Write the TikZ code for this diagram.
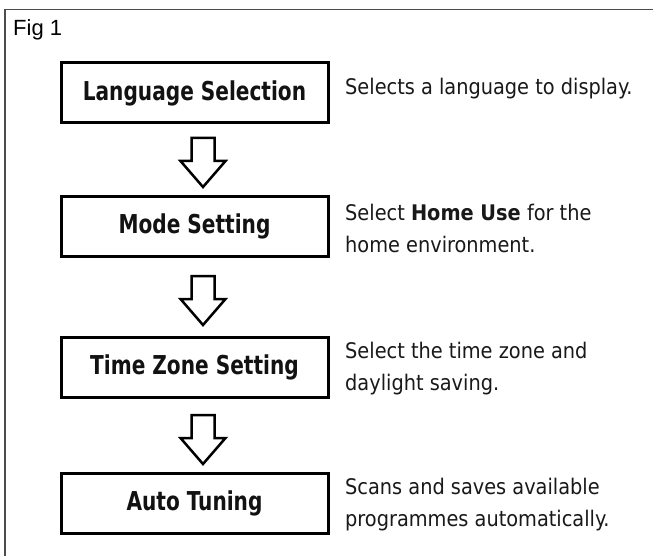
\documentclass[tikz,border=0pt]{standalone}
\usepackage{fontspec}
\setmainfont{DejaVu Sans Condensed}
\newfontfamily\boxfont[FakeStretch=0.86]{DejaVu Sans Condensed Bold}
\newfontfamily\figfont{Liberation Sans}
\begin{document}
\begin{tikzpicture}[x=1pt,y=-1pt,
  stepbox/.style={draw=black,line width=3pt,minimum width=267pt,minimum height=60pt,inner sep=0pt,
    font=\boxfont\fontsize{26}{30}\selectfont,text=black!93},
  desc/.style={anchor=west,align=left,inner sep=0pt,font=\fontsize{21.5}{32}\selectfont,text=black!90},
  flowarrow/.style={draw=black,line width=2.5pt,fill=white,line join=miter}]
\useasboundingbox (0,0) rectangle (653,556);
\fill[white] (0,0) rectangle (653,556);
\coordinate (fbl) at (5,556);
\coordinate (ftl) at (5,9.5);
\coordinate (ftr) at (653,9.5);
\draw[black!70,line width=1.5pt] (fbl) -- (ftl) -- (ftr);
\node[anchor=base west,inner sep=0pt,font=\figfont\fontsize{22}{26}\selectfont] (fig) at (13,36) {Fig 1};

\node[stepbox] (b1) at (194.5,93) {Language Selection};
\node[stepbox] (b2) at (194.5,226.5) {Mode Setting};
\node[stepbox] (b3) at (194.5,367) {Time Zone Setting};
\node[stepbox] (b4) at (194.5,503) {Auto Tuning};

\node[desc] (d1) at (345,89) {Selects a language to display.};
\node[desc] (d2) at (345,228) {Select \textbf{Home Use} for the\\home environment.};
\node[desc] (d3) at (345,369) {Select the time zone and\\daylight saving.};
\node[desc] (d4) at (345,505) {Scans and saves available\\programmes automatically.};

\foreach \t/\y in {a1/138, a2/276, a3/415}{
  \draw[flowarrow] (191.5,\y) -- ++(23,0) -- ++(0,23) -- ++(11,0) -- ++(-22.5,26) -- ++(-22.5,-26) -- ++(11,0) -- cycle;
}
\end{tikzpicture}
\end{document}
